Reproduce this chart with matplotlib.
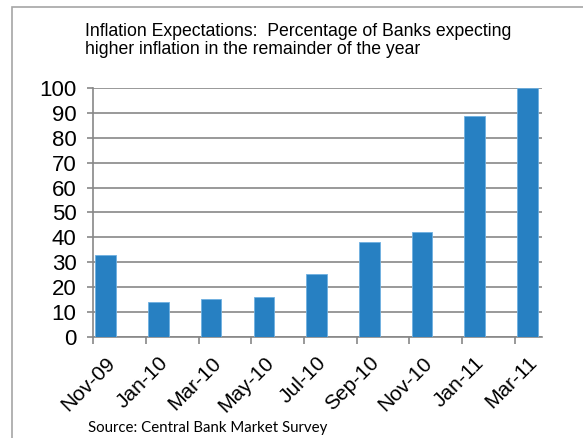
import matplotlib
matplotlib.use("Agg")
import matplotlib.pyplot as plt
import numpy as np
from matplotlib.patches import Rectangle

# data
months = ["Nov-09", "Jan-10", "Mar-10", "May-10", "Jul-10",
          "Sep-10", "Nov-10", "Jan-11", "Mar-11"]
pct_banks = [33, 14, 15, 16, 25, 38, 42, 89, 100]
title_lines = ["Inflation Expectations:  Percentage of Banks expecting",
               "higher inflation in the remainder of the year"]

plt.rcParams['font.family'] = ['Liberation Sans', 'DejaVu Sans']

fig = plt.figure(figsize=(5.83, 4.38), dpi=100)
ax = fig.add_axes([0.160, 0.2317, 0.769, 0.5668])

x = np.arange(len(months))
off = 0.237  # ticks sit left of the bars (date axis)
grey = '#878787'

ax.bar(x, pct_banks, width=0.39, color='#2780C2', edgecolor='#6FB0E0',
       linewidth=0.6, zorder=3)

ax.set_ylim(0, 100)
ax.set_xlim(-off, len(months) - 0.73)
ax.set_yticks(np.arange(0, 101, 10))
ax.yaxis.grid(True, color=grey, linewidth=1.2, zorder=0)
ax.tick_params(axis='y', labelsize=16, length=4, width=1.2, color=grey, pad=8)

# labels at bar centres, tick marks at the boundaries
ax.set_xticks(x)
ax.set_xticklabels(months, rotation=45, ha='right', va='top',
                   rotation_mode='anchor', fontsize=15)
ax.tick_params(axis='x', which='major', length=0, pad=12)
ax.set_xticks(x - off, minor=True)
ax.tick_params(axis='x', which='minor', length=5, width=1.2, color=grey)

for s in ['top', 'right']:
    ax.spines[s].set_visible(False)
for s in ['left', 'bottom']:
    ax.spines[s].set_color(grey)
    ax.spines[s].set_linewidth(1.2)

for i, line in enumerate(title_lines):
    fig.text(85/583, 1 - (36 + 18*i)/438, line,
             fontsize=12.7, ha='left', va='baseline')
fig.text(88/583, 1 - 432/438, "Source: Central Bank Market Survey",
         fontsize=10.8, family=['Lato', 'DejaVu Sans'], ha='left', va='baseline')

# outer frame (cut at right and bottom)
fig.patches.append(Rectangle((12/583, -0.1), 1.2, 1.1 - 7/438,
                             transform=fig.transFigure, fill=False,
                             edgecolor='#A6A6A6', linewidth=1.2))

fig.savefig("out.png", dpi=100)
